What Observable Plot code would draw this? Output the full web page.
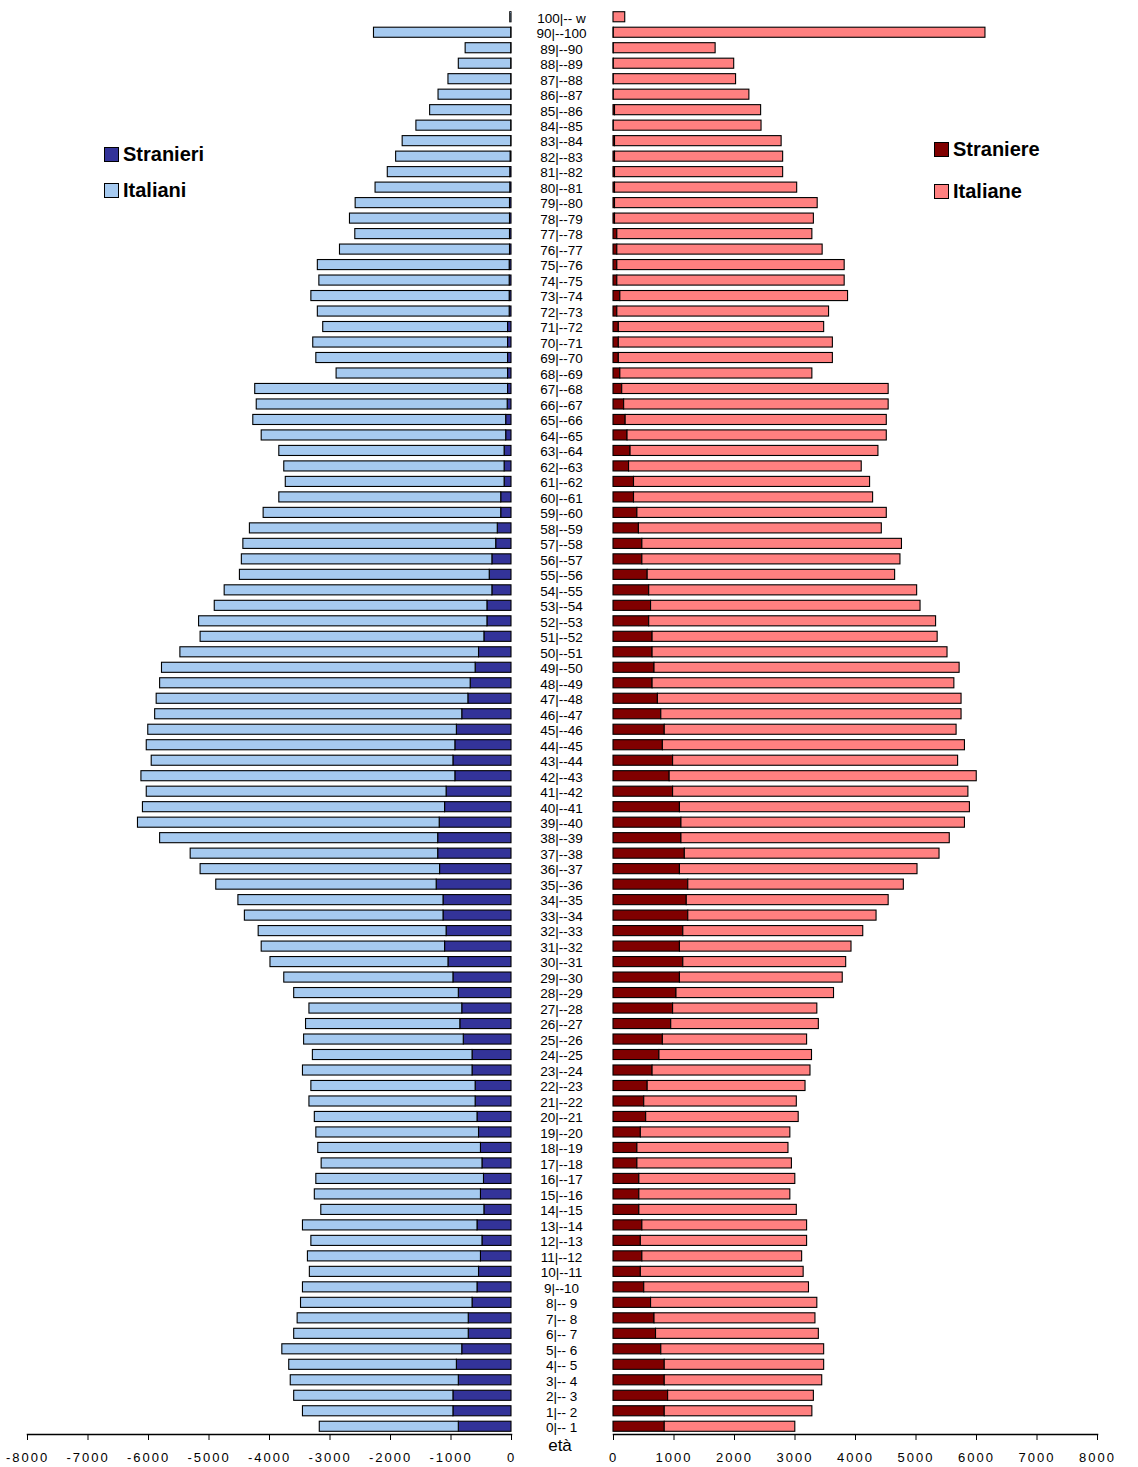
<!DOCTYPE html>
<html>
<head>
<meta charset="utf-8">
<script src="https://cdn.jsdelivr.net/npm/d3@7"></script>
<script src="https://cdn.jsdelivr.net/npm/@observablehq/plot@0.6"></script>
<style>
  body { margin: 0; background: #fff; font-family: "Liberation Sans", Arial, sans-serif; }
  #wrap { position: relative; width: 1138px; height: 1467px; overflow: hidden; }
  #left, #right { position: absolute; top: 0; }
  #left { left: 0; }
  #right { left: 523px; }
  .leg { position: absolute; display: flex; align-items: center; font-weight: bold; font-size: 20px; color: #000; height: 16px; line-height: 16px; }
  .sw { width: 13px; height: 13px; border: 1px solid #000; margin-right: 4px; }
  #eta { position: absolute; left: 530px; width: 60px; text-align: center; top: 1436px; font-size: 17px; line-height: 20px; }
</style>
</head>
<body>
<div id="wrap">
  <div id="left"></div>
  <div id="right"></div>
  <div class="leg" style="left:104px;top:146px"><span class="sw" style="background:#333399"></span>Stranieri</div>
  <div class="leg" style="left:104px;top:182px"><span class="sw" style="background:#A6CAF0"></span>Italiani</div>
  <div class="leg" style="left:934px;top:141px"><span class="sw" style="background:#800000"></span>Straniere</div>
  <div class="leg" style="left:934px;top:183px"><span class="sw" style="background:#FF8080"></span>Italiane</div>
  <div id="eta">età</div>
</div>
<script>
// Age classes, from youngest to oldest
const ages = [
  "0|-- 1","1|-- 2","2|-- 3","3|-- 4","4|-- 5","5|-- 6","6|-- 7","7|-- 8","8|-- 9","9|--10",
  "10|--11","11|--12","12|--13","13|--14","14|--15","15|--16","16|--17","17|--18","18|--19","19|--20",
  "20|--21","21|--22","22|--23","23|--24","24|--25","25|--26","26|--27","27|--28","28|--29","29|--30",
  "30|--31","31|--32","32|--33","33|--34","34|--35","35|--36","36|--37","37|--38","38|--39","39|--40",
  "40|--41","41|--42","42|--43","43|--44","44|--45","45|--46","46|--47","47|--48","48|--49","49|--50",
  "50|--51","51|--52","52|--53","53|--54","54|--55","55|--56","56|--57","57|--58","58|--59","59|--60",
  "60|--61","61|--62","62|--63","63|--64","64|--65","65|--66","66|--67","67|--68","68|--69","69|--70",
  "70|--71","71|--72","72|--73","73|--74","74|--75","75|--76","76|--77","77|--78","78|--79","79|--80",
  "80|--81","81|--82","82|--83","83|--84","84|--85","85|--86","86|--87","87|--88","88|--89","89|--90",
  "90|--100","100|-- w"
];

// Males
const maschiStranieri = [
  871, 960, 960, 871, 903, 814, 707, 707, 644, 562,
  537, 505, 480, 562, 448, 505, 455, 480, 505, 537,
  562, 593, 593, 644, 644, 789, 846, 814, 871, 960,
  1042, 1098, 1073, 1124, 1124, 1237, 1181, 1212, 1212, 1187,
  1098, 1073, 928, 960, 928, 903, 814, 713, 675, 593,
  537, 448, 398, 398, 316, 360, 316, 253, 227, 170,
  170, 114, 114, 114, 88, 88, 63, 57, 57, 57,
  57, 57, 30, 30, 30, 30, 25, 25, 25, 25,
  20, 20, 15, 5, 5, 5, 5, 5, 5, 5,
  5, 0
];
const maschiItaliani = [
  2298, 2487, 2632, 2778, 2771, 2974, 2885, 2828, 2835, 2885,
  2796, 2860, 2828, 2885, 2696, 2746, 2771, 2658, 2689, 2689,
  2689, 2747, 2715, 2803, 2639, 2639, 2550, 2526, 2721, 2796,
  2942, 3031, 3106, 3283, 3390, 3643, 3958, 4091, 4596, 4987,
  4994, 4956, 5189, 4987, 5101, 5101, 5076, 5152, 5133, 5184,
  4936, 4691, 4766, 4507, 4425, 4129, 4141, 4179, 4097, 3927,
  3668, 3617, 3642, 3724, 4041, 4180, 4148, 4179, 2834, 3169,
  3220, 3055, 3171, 3278, 3146, 3171, 2810, 2557, 2645, 2551,
  2227, 2025, 1892, 1794, 1567, 1340, 1201, 1037, 866, 753,
  2268, 20
];

// Females
const femmineStraniere = [
  847, 847, 903, 847, 847, 790, 703, 678, 621, 508,
  452, 477, 452, 477, 427, 427, 427, 395, 395, 452,
  540, 508, 565, 646, 759, 816, 954, 985, 1041, 1098,
  1154, 1098, 1154, 1236, 1211, 1236, 1098, 1179, 1123, 1123,
  1098, 985, 928, 985, 816, 847, 790, 734, 646, 678,
  646, 646, 590, 621, 590, 565, 477, 477, 420, 395,
  339, 339, 257, 282, 232, 201, 176, 144, 113, 88,
  88, 88, 63, 113, 63, 63, 63, 63, 25, 25,
  25, 25, 25, 25, 5, 25, 5, 5, 5, 5,
  5, 0
];
const femmineItaliane = [
  2158, 2440, 2409, 2603, 2635, 2692, 2691, 2660, 2748, 2723,
  2691, 2641, 2748, 2723, 2603, 2496, 2578, 2554, 2497, 2471,
  2521, 2522, 2609, 2610, 2522, 2384, 2440, 2384, 2604, 2691,
  2692, 2836, 2974, 3112, 3337, 3563, 3927, 4210, 4435, 4686,
  4793, 4881, 5076, 4711, 4993, 4824, 4963, 5019, 4988, 5043,
  4875, 4712, 4742, 4454, 4429, 4090, 4266, 4291, 4015, 4122,
  3952, 3902, 3846, 4097, 4285, 4316, 4372, 4404, 3174, 3538,
  3538, 3394, 3500, 3764, 3758, 3758, 3394, 3224, 3287, 3350,
  3011, 2779, 2779, 2754, 2442, 2415, 2241, 2021, 1990, 1683,
  6143, 194
];

const xTicksLeft = [-8000, -7000, -6000, -5000, -4000, -3000, -2000, -1000, 0];
const xTicksRight = [0, 1000, 2000, 3000, 4000, 5000, 6000, 7000, 8000];

const agesTopDown = ages.slice().reverse();

const maleRows = ages.flatMap((a, i) => [
  {age: a, group: "Stranieri", v: -maschiStranieri[i]},
  {age: a, group: "Italiani", v: -maschiItaliani[i]}
]);
const femRows = ages.flatMap((a, i) => [
  {age: a, group: "Straniere", v: femmineStraniere[i]},
  {age: a, group: "Italiane", v: femmineItaliane[i]}
]);

const font = '"Liberation Sans", Arial, sans-serif';
const yScale = {domain: agesTopDown, paddingInner: 0.35, paddingOuter: 0.175, label: null};

const left = Plot.plot({
  width: 523, height: 1467,
  marginLeft: 27, marginRight: 12, marginTop: 9, marginBottom: 33,
  style: {fontFamily: font, fontSize: "13px", background: "transparent", color: "#000", overflow: "visible"},
  x: {domain: [-8000, 0], label: null},
  y: {...yScale, axis: null},
  color: {domain: ["Stranieri", "Italiani"], range: ["#333399", "#A6CAF0"]},
  marks: [
    Plot.barX(maleRows, {x: "v", y: "age", fill: "group", stroke: "#000", strokeWidth: 1.1, order: ["Stranieri", "Italiani"]}),
    Plot.frame({anchor: "bottom", stroke: "#000", strokeWidth: 1.5}),
    Plot.axisX({ticks: xTicksLeft, tickSize: 6, tickPadding: 12, tickFormat: d => String(d), label: null, stroke: "#000", fontSize: 13})
  ]
});

const right = Plot.plot({
  width: 615, height: 1467,
  marginLeft: 90, marginRight: 41, marginTop: 9, marginBottom: 33,
  style: {fontFamily: font, fontSize: "13px", background: "transparent", color: "#000", overflow: "visible"},
  x: {domain: [0, 8000], label: null},
  y: yScale,
  color: {domain: ["Straniere", "Italiane"], range: ["#800000", "#FF8080"]},
  marks: [
    Plot.barX(femRows, {x: "v", y: "age", fill: "group", stroke: "#000", strokeWidth: 1.1, order: ["Straniere", "Italiane"]}),
    Plot.frame({anchor: "bottom", stroke: "#000", strokeWidth: 1.5}),
    Plot.axisX({ticks: xTicksRight, tickSize: 6, tickPadding: 12, tickFormat: d => String(d), label: null, stroke: "#000", fontSize: 13}),
    Plot.axisY({anchor: "left", tickSize: 0, tickPadding: 0, textAnchor: "middle", dx: -52, dy: 1, fontSize: 13.5, label: null})
  ]
});

document.getElementById("left").appendChild(left);
document.getElementById("right").appendChild(right);

for (const svg of [left, right]) {
  d3.select(svg).selectAll('g[aria-label="x-axis tick label"] text').style("letter-spacing", "2px");
}
</script>
</body>
</html>
